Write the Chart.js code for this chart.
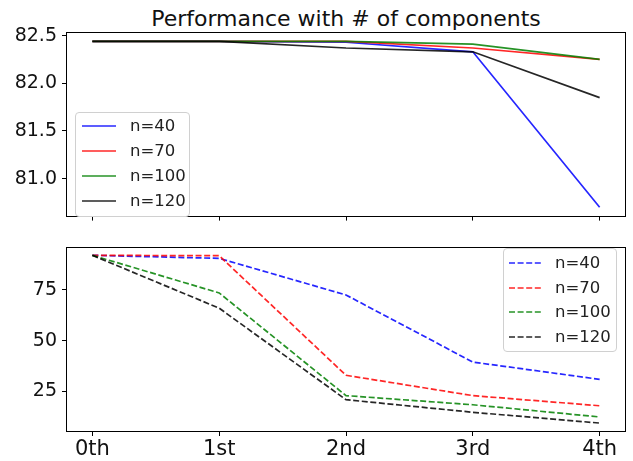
<!DOCTYPE html>
<html lang="en">
<head>
  <meta charset="UTF-8">
  <title>Performance with # of components</title>
  <script src="https://cdn.jsdelivr.net/npm/chart.js"></script>
</head>
<body style="margin:0;background:#fff;font-family:'DejaVu Sans',sans-serif;">
  <div style="position:relative;width:633px;height:461px;background:#fff;overflow:hidden;">
    <div style="position:absolute;left:67px;top:8px;width:558px;text-align:center;font-size:22px;line-height:22px;color:#111;">
      Performance with # of components
    </div>
    <canvas id="topChart" width="633" height="232" style="position:absolute;left:0;top:0;"></canvas>
    <canvas id="bottomChart" width="633" height="229" style="position:absolute;left:0;top:232px;"></canvas>
    <div id="legendTop"></div>
    <div id="legendBottom"></div>
  </div>
  <script>
    // x categories and series names
    const CATEGORIES = ['0th', '1st', '2nd', '3rd', '4th'];
    const SERIES_LABELS = ['n=40', 'n=70', 'n=100', 'n=120'];
    const COLORS = ['rgba(0,0,255,0.85)', 'rgba(255,0,0,0.85)', 'rgba(0,128,0,0.85)', 'rgba(0,0,0,0.85)'];

    // top panel (solid lines)
    const TOP_N40  = [82.44, 82.44, 82.43, 82.33, 80.70];
    const TOP_N70  = [82.44, 82.44, 82.44, 82.37, 82.25];
    const TOP_N100 = [82.44, 82.44, 82.44, 82.41, 82.25];
    const TOP_N120 = [82.44, 82.44, 82.37, 82.33, 81.85];

    // bottom panel (dashed lines)
    const BOTTOM_N40  = [92, 90.5, 72.5, 39.5, 31];
    const BOTTOM_N70  = [92, 91.8, 33, 23, 18];
    const BOTTOM_N100 = [92, 73.5, 23, 18.5, 12.5];
    const BOTTOM_N120 = [92, 66, 21, 14.8, 9.5];

    // tick values
    const X_TICKS = [0, 1, 2, 3, 4];
    const TOP_TICKS = [81.0, 81.5, 82.0, 82.5];
    const BOTTOM_TICKS = [25, 50, 75];

    const FONT = "'DejaVu Sans', sans-serif";

    // draws the box around the axes (matplotlib spines)
    const framePlugin = {
      id: 'frame',
      afterDraw(chart) {
        const a = chart.chartArea, ctx = chart.ctx;
        ctx.save();
        ctx.strokeStyle = '#000';
        ctx.lineWidth = 1;
        ctx.strokeRect(Math.round(a.left) - 0.5, Math.round(a.top) - 0.5,
          Math.round(a.right - a.left) + 1, Math.round(a.bottom - a.top) + 1);
        ctx.restore();
      }
    };

    function makeChart(id, series, dashed, yMin, yMax, yTicks, decimals, showX, padTop, xHeight) {
      const datasets = series.map((vals, i) => ({
        label: SERIES_LABELS[i],
        data: vals.map((v, j) => ({ x: j, y: v })),
        borderColor: COLORS[i],
        borderWidth: 1.7,
        borderDash: dashed ? [6, 2.6] : [],
        pointRadius: 0,
        tension: 0,
        fill: false,
        order: series.length - i
      }));
      return new Chart(document.getElementById(id), {
        type: 'line',
        data: { datasets },
        options: {
          responsive: false,
          animation: false,
          layout: { padding: { top: padTop, right: 8, left: 0, bottom: 0 } },
          plugins: { legend: { display: false }, tooltip: { enabled: false } },
          scales: {
            x: {
              type: 'linear', min: -0.2, max: 4.2,
              afterBuildTicks: s => { s.ticks = X_TICKS.map(v => ({ value: v })); },
              afterFit: s => { s.height = xHeight; },
              grid: { drawOnChartArea: false, drawTicks: true, tickLength: 5, color: '#000' },
              border: { display: false },
              ticks: {
                display: showX, color: '#111', padding: 1, maxRotation: 0, autoSkip: false,
                font: { family: FONT, size: 21 },
                callback: v => CATEGORIES[v]
              }
            },
            y: {
              min: yMin, max: yMax,
              afterBuildTicks: s => { s.ticks = yTicks.map(v => ({ value: v })); },
              afterFit: s => { s.width = 67; },
              grid: { drawOnChartArea: false, drawTicks: true, tickLength: 5, color: '#000' },
              border: { display: false },
              ticks: {
                color: '#111', padding: 5,
                font: { family: FONT, size: 19 },
                callback: v => v.toFixed(decimals)
              }
            }
          }
        },
        plugins: [framePlugin]
      });
    }

    makeChart('topChart', [TOP_N40, TOP_N70, TOP_N100, TOP_N120], false,
      80.613, 82.527, TOP_TICKS, 1, false, 33, 9);
    makeChart('bottomChart', [BOTTOM_N40, BOTTOM_N70, BOTTOM_N100, BOTTOM_N120], true,
      5.6, 95.4, BOTTOM_TICKS, 0, true, 9, 30);

    // legends in matplotlib style
    function makeLegend(id, left, top, width, height, firstRow, rowStep, lineX1, lineX2, textX, dashed) {
      const box = document.getElementById(id);
      box.style.cssText = `position:absolute;left:${left}px;top:${top}px;width:${width}px;height:${height}px;
        background:rgba(255,255,255,0.8);border:1px solid #d0d0d0;border-radius:4px;box-sizing:border-box;`;
      SERIES_LABELS.forEach((lab, i) => {
        const cy = firstRow + rowStep * i;
        const row = document.createElement('div');
        row.style.cssText = `position:absolute;left:0;top:${cy - 10}px;width:${width}px;height:20px;`;
        row.innerHTML = `
          <svg width="${lineX2 + 2}" height="20" style="position:absolute;left:0;top:0;">
            <line x1="${lineX1}" y1="10" x2="${lineX2}" y2="10" stroke="${COLORS[i]}" stroke-width="1.7"
              ${dashed ? 'stroke-dasharray="6 2.6"' : ''}/>
          </svg>
          <span style="position:absolute;left:${textX}px;top:0;font-size:16.5px;line-height:20px;color:#222;">${lab}</span>`;
        box.appendChild(row);
      });
    }
    makeLegend('legendTop', 75, 112, 115, 105, 13, 25, 6, 40, 54, false);
    makeLegend('legendBottom', 503, 248, 114, 104, 14, 24.5, 5, 38, 51, true);
  </script>
</body>
</html>
